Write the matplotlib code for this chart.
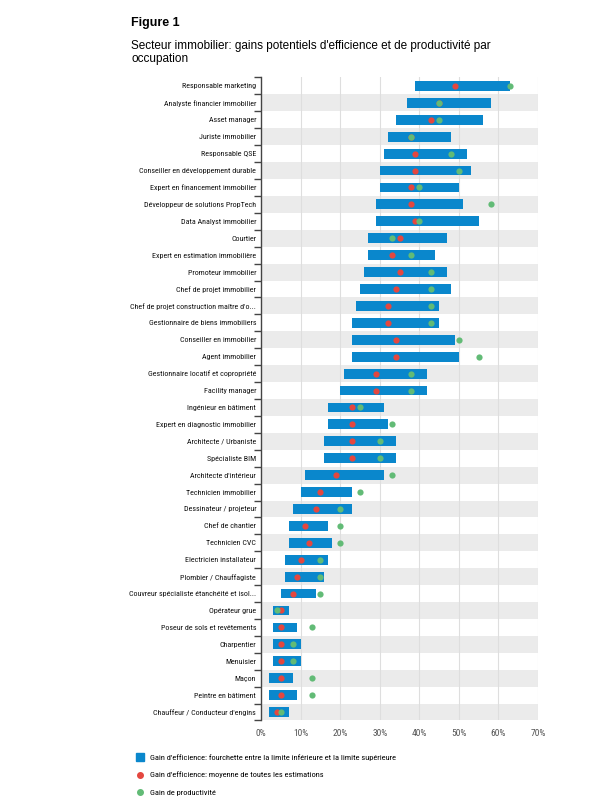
import matplotlib.pyplot as plt
from matplotlib.lines import Line2D
import numpy as np

occupations = [
    "Responsable marketing",
    "Analyste financier immobilier",
    "Asset manager",
    "Juriste immobilier",
    "Responsable QSE",
    "Conseiller en développement durable",
    "Expert en financement immobilier",
    "Développeur de solutions PropTech",
    "Data Analyst immobilier",
    "Courtier",
    "Expert en estimation immobilière",
    "Promoteur immobilier",
    "Chef de projet immobilier",
    "Chef de projet construction maître d'o...",
    "Gestionnaire de biens immobiliers",
    "Conseiller en immobilier",
    "Agent immobilier",
    "Gestionnaire locatif et copropriété",
    "Facility manager",
    "Ingénieur en bâtiment",
    "Expert en diagnostic immobilier",
    "Architecte / Urbaniste",
    "Spécialiste BIM",
    "Architecte d'intérieur",
    "Technicien immobilier",
    "Dessinateur / projeteur",
    "Chef de chantier",
    "Technicien CVC",
    "Electricien installateur",
    "Plombier / Chauffagiste",
    "Couvreur spécialiste étanchéité et isol...",
    "Opérateur grue",
    "Poseur de sols et revêtements",
    "Charpentier",
    "Menuisier",
    "Maçon",
    "Peintre en bâtiment",
    "Chauffeur / Conducteur d'engins",
]

# efficiency gain range (%)
eff_low = [39, 37, 34, 32, 31, 30, 30, 29, 29, 27, 27, 26, 25, 24, 23, 23, 23, 21, 20,
           17, 17, 16, 16, 11, 10, 8, 7, 7, 6, 6, 5, 3, 3, 3, 3, 2, 2, 2]
eff_high = [63, 58, 56, 48, 52, 53, 50, 51, 55, 47, 44, 47, 48, 45, 45, 49, 50, 42, 42,
            31, 32, 34, 34, 31, 23, 23, 17, 18, 17, 16, 14, 7, 9, 10, 10, 8, 9, 7]
# efficiency gain, mean of all estimates (%)
eff_mean = [49, 45, 43, 38, 39, 39, 38, 38, 39, 35, 33, 35, 34, 32, 32, 34, 34, 29, 29,
            23, 23, 23, 23, 19, 15, 14, 11, 12, 10, 9, 8, 5, 5, 5, 5, 5, 5, 4]
# productivity gain (%)
prod_gain = [63, 45, 45, 38, 48, 50, 40, 58, 40, 33, 38, 43, 43, 43, 43, 50, 55, 38, 38,
             25, 33, 30, 30, 33, 25, 20, 20, 20, 15, 15, 15, 4, 13, 8, 8, 13, 13, 5]

blue = "#0a87cc"
red = "#e4473f"
green = "#62bb76"

plt.rcParams['font.family'] = ['Roboto Condensed', 'DejaVu Sans']

fig = plt.figure(figsize=(6.13, 8.07), dpi=100)
ax = fig.add_axes([0.4258, 0.1072, 0.4519, 0.7968])

n = len(occupations)
y = np.arange(n)

# alternating grey bands
for i in range(1, n, 2):
    ax.axhspan(i - 0.5, i + 0.5, color="#ebebeb", lw=0, zorder=0)

for v in range(10, 80, 10):
    ax.axvline(v, color="#dedede", lw=0.8, zorder=1)

ax.barh(y, np.array(eff_high) - np.array(eff_low), left=eff_low, height=0.58,
        color=blue, zorder=2)
ax.scatter(eff_mean, y, s=20, color=red, zorder=3, lw=0)
ax.scatter(prod_gain, y, s=20, color=green, zorder=4, lw=0)

ax.set_xlim(0, 70)
ax.set_ylim(n - 0.5, -0.5)
ax.set_xticks(range(0, 80, 10))
ax.set_xticklabels([f"{v}%" for v in range(0, 80, 10)], color="#555555")
ax.set_yticks(y)
ax.set_yticklabels(occupations, color="#111111")
ax.set_yticks(np.arange(-0.5, n, 1), minor=True)
ax.tick_params(axis="y", which="major", length=0, pad=3.5, labelsize=5.8)
ax.tick_params(axis="y", which="minor", length=5, width=1, color="#444444", direction="out")
ax.tick_params(axis="x", length=0, pad=6, labelsize=6.8)

for s in ["top", "right", "bottom"]:
    ax.spines[s].set_visible(False)
ax.spines["left"].set_color("#444444")
ax.spines["left"].set_linewidth(1)

fig.text(0.214, 0.972, "Figure 1", fontsize=9, fontweight="bold",
         family=["Liberation Sans", "DejaVu Sans"], va="center")
fig.text(0.214, 0.935, "Secteur immobilier: gains potentiels d'efficience et de productivité par\noccupation",
         fontsize=8.5, family=["Liberation Sans", "DejaVu Sans"], va="center", linespacing=1.2)

handles = [
    Line2D([], [], marker="s", color=blue, linestyle="none", markersize=6),
    Line2D([], [], marker="o", color=red, linestyle="none", markersize=4),
    Line2D([], [], marker="o", color=green, linestyle="none", markersize=4),
]
labels = [
    "Gain d'efficience: fourchette entre la limite inférieure et la limite supérieure",
    "Gain d'efficience: moyenne de toutes les estimations",
    "Gain de productivité",
]
fig.legend(handles, labels, loc="upper left", bbox_to_anchor=(0.222, 0.066),
           frameon=False, fontsize=6.0, handlelength=1, handletextpad=0.7,
           labelspacing=1.33, borderpad=0, borderaxespad=0)

fig.savefig("out.png", dpi=100)
